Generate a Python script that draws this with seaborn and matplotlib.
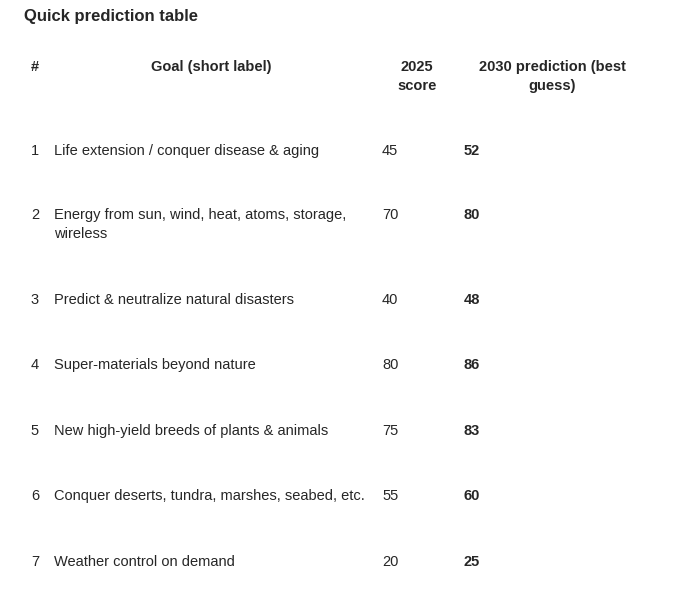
"""Quick prediction table rendered as a figure."""

import matplotlib

matplotlib.use("Agg")
import matplotlib.pyplot as plt
import seaborn as sns

NUMBERS = ["1", "2", "3", "4", "5", "6", "7"]
GOALS = [
    "Life extension / conquer disease & aging",
    "Energy from sun, wind, heat, atoms, storage,\nwireless",
    "Predict & neutralize natural disasters",
    "Super-materials beyond nature",
    "New high-yield breeds of plants & animals",
    "Conquer deserts, tundra, marshes, seabed, etc.",
    "Weather control on demand",
]
SCORE_2025 = [45, 70, 40, 80, 75, 55, 20]
PRED_2030 = [52, 80, 48, 86, 83, 60, 25]
ROW_Y = [152, 216, 301, 366, 432, 497, 563]

sns.set_theme(style="white")
plt.rcParams["font.family"] = ["Liberation Sans", "DejaVu Sans"]

W, H = 698, 600
fig = plt.figure(figsize=(W / 100, H / 100), dpi=100)
fig.patch.set_facecolor("white")


def put(x, y, s, **kw):
    fig.text(x / W, 1 - y / H, s, fontsize=10.5, va="top", linespacing=1.45, **kw)


fig.text(24 / W, 1 - 17 / H, "Quick prediction table", fontsize=12,
         fontweight="bold", va="center")

put(35, 60, "#", ha="center", fontweight="bold")
put(211, 60, "Goal (short label)", ha="center", fontweight="bold")
put(417, 60, "2025\nscore", ha="center", fontweight="bold", multialignment="center")
put(552, 60, "2030 prediction (best\nguess)", ha="center", fontweight="bold",
    multialignment="center")

for num, goal, s25, p30, y in zip(NUMBERS, GOALS, SCORE_2025, PRED_2030, ROW_Y):
    top = y - 8
    put(39, top, num, ha="right")
    put(54, top, goal, ha="left")
    put(382, top, str(s25), ha="left")
    put(464, top, str(p30), ha="left", fontweight="bold")

fig.savefig("out.png", dpi=100, facecolor="white")
